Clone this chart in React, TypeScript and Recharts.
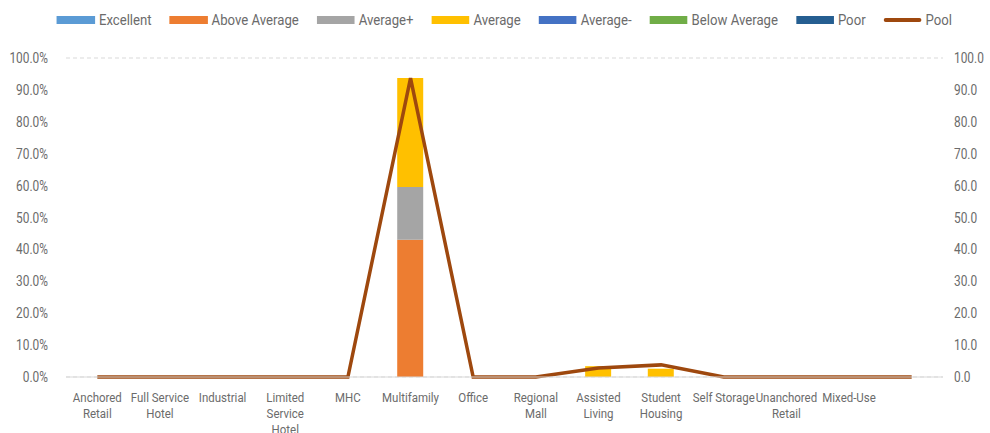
import React from 'react';
import {
  ComposedChart,
  Bar,
  Line,
  XAxis,
  YAxis,
  CartesianGrid,
  Legend
} from 'recharts';

const FONT = 'Roboto, "Liberation Sans", sans-serif';
const TEXT = '#6b6b6b';
const SQUEEZE = 0.85; // reference uses a condensed face

const categories = [
  'Anchored Retail', 'Full Service Hotel', 'Industrial', 'Limited Service Hotel', 'MHC',
  'Multifamily', 'Office', 'Regional Mall', 'Assisted Living', 'Student Housing',
  'Self Storage', 'Unanchored Retail', 'Mixed-Use', ''
];

// stacked bar series (% of loans), left axis
const excellent = [0, 0, 0, 0, 0, 0, 0, 0, 0, 0, 0, 0, 0, 0];
const aboveAverage = [0, 0, 0, 0, 0, 43.0, 0, 0, 0, 0, 0, 0, 0, 0];
const averagePlus = [0, 0, 0, 0, 0, 16.6, 0, 0, 0, 0, 0, 0, 0, 0];
const average = [0, 0, 0, 0, 0, 34.1, 0, 0, 3.4, 2.6, 0, 0, 0, 0];
const averageMinus = [0, 0, 0, 0, 0, 0, 0, 0, 0, 0, 0, 0, 0, 0];
const belowAverage = [0, 0, 0, 0, 0, 0, 0, 0, 0, 0, 0, 0, 0, 0];
const poor = [0, 0, 0, 0, 0, 0, 0, 0, 0, 0, 0, 0, 0, 0];
// line, right axis
const pool = [0, 0, 0, 0, 0, 93.7, 0, 0, 2.8, 3.8, 0, 0, 0, 0];

const leftTicks = [0, 10, 20, 30, 40, 50, 60, 70, 80, 90, 100];
const rightTicks = [0, 10, 20, 30, 40, 50, 60, 70, 80, 90, 100];

const SERIES = [
  { key: 'excellent', name: 'Excellent', color: '#5B9BD5', values: excellent },
  { key: 'aboveAverage', name: 'Above Average', color: '#ED7D31', values: aboveAverage },
  { key: 'averagePlus', name: 'Average+', color: '#A5A5A5', values: averagePlus },
  { key: 'average', name: 'Average', color: '#FFC000', values: average },
  { key: 'averageMinus', name: 'Average-', color: '#4472C4', values: averageMinus },
  { key: 'belowAverage', name: 'Below Average', color: '#70AD47', values: belowAverage },
  { key: 'poor', name: 'Poor', color: '#255E91', values: poor }
];
const POOL_COLOR = '#9E480E';

const data = categories.map((category, i) => {
  const row: any = { category, pool: pool[i] };
  SERIES.forEach(s => { row[s.key] = s.values[i]; });
  return row;
});

// greedy wrap, roughly what Excel does in a narrow category slot
const wrap = (label: string, max = 12) => {
  const lines: string[] = [];
  let cur = '';
  label.split(' ').forEach(w => {
    if (!cur) cur = w;
    else if ((cur + ' ' + w).length <= max) cur += ' ' + w;
    else { lines.push(cur); cur = w; }
  });
  if (cur) lines.push(cur);
  return lines;
};

const CategoryTick = (props: any) => {
  const { x, y, payload } = props;
  const lines = wrap(String(payload.value));
  return (
    <g transform={`translate(${x},${y + 17}) scale(${SQUEEZE},1)`}>
      <text x={0} y={0} textAnchor="middle" fill={TEXT} fontSize={13.5} fontFamily={FONT}>
        {lines.map((l, i) => (
          <tspan key={i} x={0} dy={i === 0 ? 0 : 16}>{l}</tspan>
        ))}
      </text>
    </g>
  );
};

const makeValueTick = (anchor: 'start' | 'end', fmt: (v: number) => string) => (props: any) => {
  const { x, y, payload } = props;
  return (
    <g transform={`translate(${x},${y}) scale(${SQUEEZE},1)`}>
      <text x={0} y={0} dy="0.36em" textAnchor={anchor} fill={TEXT} fontSize={14} fontFamily={FONT}>
        {fmt(payload.value)}
      </text>
    </g>
  );
};

const LeftTick = makeValueTick('end', v => `${v.toFixed(1)}%`);
const RightTick = makeValueTick('start', v => v.toFixed(1));

const LEG = 0.94;
const LegendContent = () => (
  <div
    style={{
      display: 'flex', justifyContent: 'center', gap: 18 / LEG, paddingLeft: 19,
      fontFamily: FONT, fontSize: 14, color: TEXT,
      transform: `scaleX(${LEG})`, transformOrigin: '504px 50%'
    }}
  >
    {SERIES.map(s => (
      <div key={s.key} style={{ display: 'flex', alignItems: 'center', gap: 4 / LEG }}>
        <span style={{ display: 'inline-block', width: 38 / LEG, height: 8, background: s.color }} />
        <span>{s.name}</span>
      </div>
    ))}
    <div style={{ display: 'flex', alignItems: 'center', gap: 4 / LEG }}>
      <span style={{ display: 'inline-block', width: 38 / LEG, height: 4, borderRadius: 2, background: POOL_COLOR }} />
      <span>Pool</span>
    </div>
  </div>
);

const App: React.FC = () => {
  return (
    <div style={{ position: 'absolute', left: 0, top: 0, width: 990, height: 433, background: '#fff' }}>
      <ComposedChart
        width={990}
        height={433}
        data={data}
        margin={{ top: 42, right: 0, bottom: 0, left: 0 }}
      >
        <CartesianGrid vertical={false} stroke="#d9d9d9" strokeDasharray="4 3" />
        <Legend verticalAlign="top" content={<LegendContent />} wrapperStyle={{ top: 12, left: 0, width: 990 }} />
        <XAxis
          dataKey="category"
          interval={0}
          height={56}
          tickLine={false}
          axisLine={{ stroke: '#d9d9d9' }}
          tick={<CategoryTick />}
        />
        <YAxis
          yAxisId="left"
          width={66}
          domain={[0, 100]}
          ticks={leftTicks}
          axisLine={false}
          tickLine={false}
          tickMargin={12}
          tick={<LeftTick />}
        />
        <YAxis
          yAxisId="right"
          orientation="right"
          width={47}
          domain={[0, 100]}
          ticks={rightTicks}
          axisLine={false}
          tickLine={false}
          tickMargin={5}
          tick={<RightTick />}
        />
        {SERIES.map(s => (
          <Bar
            key={s.key}
            yAxisId="left"
            dataKey={s.key}
            name={s.name}
            stackId="a"
            fill={s.color}
            barSize={26}
            isAnimationActive={false}
          />
        ))}
        <Line
          yAxisId="right"
          type="linear"
          dataKey="pool"
          name="Pool"
          stroke={POOL_COLOR}
          strokeWidth={3.5}
          dot={false}
          isAnimationActive={false}
        />
      </ComposedChart>
    </div>
  );
};

export default App;
